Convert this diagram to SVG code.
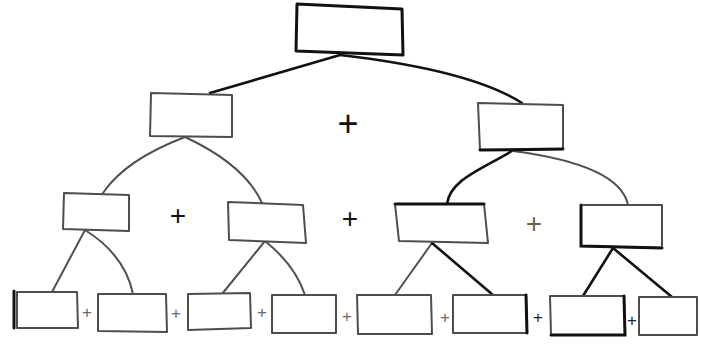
<svg xmlns="http://www.w3.org/2000/svg" width="701" height="348" viewBox="0 0 701 348">
<style>
.bx{fill:#fff;stroke:#4d4d4d;stroke-width:2;stroke-linejoin:round}
.bk{fill:#fff;stroke:#111;stroke-width:3;stroke-linejoin:round}
.ed{fill:none;stroke:#111;stroke-width:3;stroke-linecap:round}
.cg{fill:none;stroke:#505050;stroke-width:2;stroke-linecap:round}
.cb{fill:none;stroke:#111;stroke-width:2.6;stroke-linecap:round}
.pl{font-family:"Liberation Sans",Arial,sans-serif;text-anchor:middle;fill:#111}
.p1{font-size:36px}
.p2{font-size:28px}
.p3{font-size:17px;fill:#6a6a6a}
</style>
<rect width="701" height="348" fill="#fff"/>
<g id="connectors">
<path class="cb" d="M340,55 L210,93"/>
<path class="cb" d="M340,55 Q470,70 522,103"/>
<path class="cg" d="M185,137 Q125,160 103,193"/>
<path class="cg" d="M185,137 Q245,165 262,203"/>
<path class="cb" d="M512,151 C480,170 450,180 447,204"/>
<path class="cg" d="M513,151 Q620,165 628,205"/>
<path class="cg" d="M85,230 L52,292"/>
<path class="cg" d="M85,230 Q125,255 133,294"/>
<path class="cg" d="M265,241 L222,294"/>
<path class="cg" d="M265,241 Q295,265 305,295"/>
<path class="cg" d="M432,243 L395,295"/>
<path class="cb" d="M432,243 L493,295"/>
<path class="cb" d="M613,248 L583,296"/>
<path class="cb" d="M613,248 L672,297"/>
</g>
<g id="n0"><polygon class="bk" points="297,4 402,9 403,55 296,51"/></g>
<g id="n1"><polygon class="bx" points="151,93 232,95 232,137 150,136"/></g>
<g id="n2"><polygon class="bx" points="478,103 563,105 563,149 480,150"/><path class="ed" d="M480,150 L563,149"/></g>
<g id="n3"><polygon class="bx" points="64,193 129,195 129,231 63,229"/></g>
<g id="n4"><polygon class="bx" points="228,202 303,205 306,243 229,240"/></g>
<g id="n5"><polygon class="bx" points="395,204 484,204 488,243 399,241"/><path class="ed" d="M395,204 L484,204"/></g>
<g id="n6"><polygon class="bx" points="581,205 662,205 662,248 581,246"/><path class="ed" d="M581,205 L581,246 L662,248"/></g>
<g id="n7"><polygon class="bx" points="17,292 77,292 78,328 17,328"/><path class="ed" d="M14,291 L14,328"/></g>
<g id="n8"><polygon class="bx" points="98,294 166,294 167,332 98,331"/></g>
<g id="n9"><polygon class="bx" points="188,294 250,293 251,328 188,330"/></g>
<g id="n10"><polygon class="bx" points="272,295 336,295 336,333 272,333"/></g>
<g id="n11"><polygon class="bx" points="357,295 431,295 432,334 358,334"/></g>
<g id="n12"><polygon class="bx" points="453,295 526,295 527,333 453,333"/><path class="ed" d="M526,295 L527,333"/></g>
<g id="n13"><polygon class="bx" points="550,296 624,296 625,335 551,335"/><path class="ed" d="M551,335 L625,335 L624,296"/></g>
<g id="n14"><polygon class="bx" points="639,297 697,297 697,335 639,335"/></g>
<g id="plus">
<text class="pl p1" x="348" y="136">+</text>
<text class="pl p2" x="178" y="225">+</text>
<text class="pl p2" x="350" y="228">+</text>
<text class="pl p2" x="534" y="233" style="fill:#6b6440">+</text>
<text class="pl p3" x="87" y="318">+</text>
<text class="pl p3" x="176" y="319">+</text>
<text class="pl p3" x="262" y="318">+</text>
<text class="pl p3" x="347" y="322">+</text>
<text class="pl p3" x="445" y="323">+</text>
<text class="pl p3" x="538" y="323" style="fill:#222">+</text>
<text class="pl p3" x="632" y="326" style="fill:#222">+</text>
</g>
</svg>
